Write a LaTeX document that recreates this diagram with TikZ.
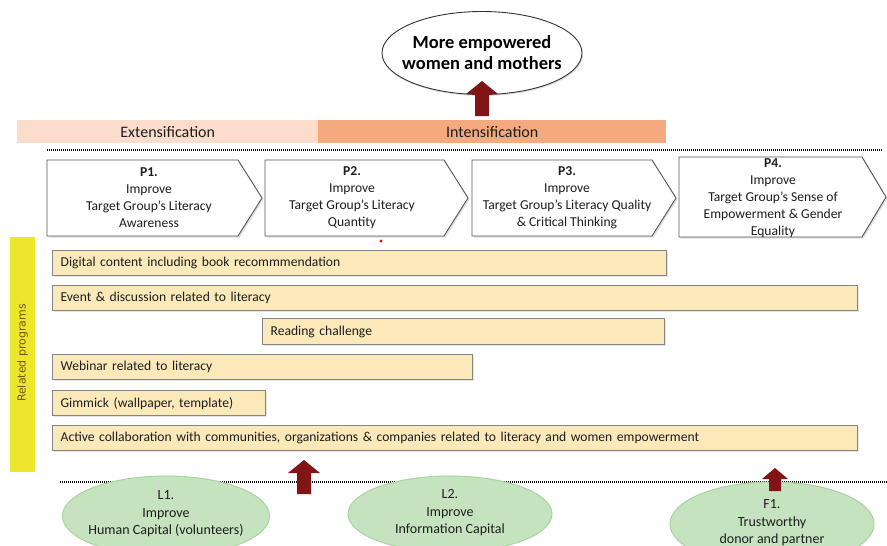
\documentclass[tikz,border=0pt]{standalone}
\usepackage{fontspec}
\setmainfont{Carlito}
\newfontfamily\relfont{DejaVu Sans}
\usetikzlibrary{shapes.geometric,shadows}
\definecolor{extc}{HTML}{FCDDCC}
\definecolor{intc}{HTML}{F4AA7E}
\definecolor{boxfill}{HTML}{FCE9BA}
\definecolor{boxline}{HTML}{858585}
\definecolor{yelbar}{HTML}{EDE62A}
\definecolor{yeltext}{HTML}{6E5A10}
\definecolor{darkred}{HTML}{831416}
\definecolor{greenfill}{HTML}{C6E3BF}
\definecolor{greenline}{HTML}{A9D3A0}
\definecolor{chevline}{HTML}{555555}
\definecolor{txt}{HTML}{1E1E1E}
\begin{document}
\begin{tikzpicture}[x=1pt,y=-1pt,
  chev/.style={draw=chevline, line width=0.9pt, fill=white, line join=miter,
    drop shadow={shadow xshift=1.5pt, shadow yshift=-1.5pt, opacity=0.25}},
  chevtext/.style={align=center, text=txt, font=\fontsize{13.6}{17}\selectfont, inner sep=0pt},
  progbox/.style={draw=boxline, line width=1.3pt, fill=boxfill, anchor=north west,
    align=left, inner xsep=8pt, inner ysep=0pt, text=txt, font=\fontsize{13.6}{15}\selectfont,
    drop shadow={shadow xshift=1pt, shadow yshift=-1pt, opacity=0.2}},
  phase/.style={anchor=north west, inner sep=0pt, text=txt, font=\fontsize{16}{18}\selectfont},
  green/.style={ellipse, draw=greenline, line width=1pt, fill=greenfill, inner sep=0pt},
  greentext/.style={align=center, text=txt, inner sep=0pt, font=\fontsize{14}{17.5}\selectfont},
  dots/.style={line width=2pt, dash pattern=on 1pt off 1pt},
  blockarrow/.style={fill=darkred, draw=none}
]
\useasboundingbox (0,0) rectangle (887,546);
\clip (0,0) rectangle (887,546);
\fill[white] (0,0) rectangle (887,546);

% goal ellipse
\node[ellipse, draw=black!80, line width=0.9pt, fill=white, minimum width=200pt, minimum height=83pt,
  inner sep=0pt, drop shadow={shadow xshift=1pt, shadow yshift=-1.5pt, opacity=0.25}]
  (goal) at (482,53) {};
\node[align=center, inner sep=0pt, font=\bfseries\fontsize{18.5}{21}\selectfont] (goaltxt) at (goal.center)
  {More empowered\\women and mothers};

% phases
\node[phase, fill=extc, minimum width=301pt, minimum height=23pt] (ext) at (17,120) {Extensification};
\node[phase, fill=intc, minimum width=348pt, minimum height=23pt] (int) at (318,120) {Intensification};

% top arrow
\coordinate (ta) at (482,116);
\fill[blockarrow] (475,116) -- (475,94) -- (466,94) -- (482,81) -- (498,94) -- (489,94) -- (489,116) -- cycle;

% top dotted line
\coordinate (d1a) at (47,150);
\coordinate (d1b) at (882,150);
\draw[dots] (d1a) -- (d1b);

% chevrons
\draw[chev] (47,160) -- (238,160) -- (262,198) -- (238,236) -- (47,236) -- cycle;
\draw[chev] (265,160) -- (444,160) -- (468,198) -- (444,236) -- (265,236) -- cycle;
\draw[chev] (472,160) -- (652,160) -- (676,198) -- (652,236) -- (472,236) -- cycle;
\draw[chev] (679,157) -- (862,157) -- (886,197) -- (862,237) -- (679,237) -- cycle;
\node[chevtext] (p1) at (149,198) {\textbf{P1.}\\Improve\\Target Group’s Literacy\\Awareness};
\node[chevtext] (p2) at (352,198) {\textbf{P2.}\\Improve\\Target Group’s Literacy\\Quantity};
\node[chevtext] (p3) at (567,198) {\textbf{P3.}\\Improve\\Target Group’s Literacy Quality\\\& Critical Thinking};
\node[chevtext] (p4) at (773,198) {\textbf{P4.}\\Improve\\Target Group’s Sense of\\Empowerment \& Gender\\Equality};

% red dot
\fill[red] (381,241) circle (1.6pt);

% related programs bar
\node[fill=yelbar, minimum width=25pt, minimum height=235pt, inner sep=0pt, anchor=north west] (rel) at (10,237) {};
\node[rotate=90, text=yeltext, font=\relfont\fontsize{11}{13}\selectfont, inner sep=0pt] (reltxt) at (22.5,353) {Related programs};

% program boxes
\node[progbox, text width=598pt, minimum height=25pt] (b1) at (52,250) {Digital content including book recommmendation};
\node[progbox, text width=789pt, minimum height=25pt] (b2) at (52,285) {Event \& discussion related to literacy};
\node[progbox, text width=386pt, minimum height=26pt] (b3) at (262,318) {Reading challenge};
\node[progbox, text width=404pt, minimum height=25pt] (b4) at (52,354) {Webinar related to literacy};
\node[progbox, text width=197pt, minimum height=25pt] (b5) at (52,390) {Gimmick (wallpaper, template)};
\node[progbox, text width=789pt, minimum height=25pt] (b6) at (52,425) {Active collaboration with communities, organizations \& companies related to literacy and women empowerment};

% bottom dotted line
\coordinate (d2a) at (60,482);
\coordinate (d2b) at (887,482);
\draw[dots] (d2a) -- (d2b);

% foundations
\node[green, minimum width=207pt, minimum height=80pt] (l1) at (166,516) {};
\node[green, minimum width=204pt, minimum height=76pt] (l2) at (450,514) {};
\node[green, minimum width=204pt, minimum height=84pt] (f1) at (772,524) {};
\node[greentext] (l1t) at (166,514) {L1.\\Improve\\Human Capital (volunteers)};
\node[greentext] (l2t) at (450,513) {L2.\\Improve\\Information Capital};
\node[greentext] (f1t) at (772,523) {F1.\\Trustworthy\\donor and partner};

% bottom arrows
\fill[blockarrow] (297,494) -- (297,473) -- (288,473) -- (304,460) -- (320,473) -- (311,473) -- (311,494) -- cycle;
\fill[blockarrow] (769,491) -- (769,479) -- (762,479) -- (775,468) -- (788,479) -- (781,479) -- (781,491) -- cycle;
\end{tikzpicture}
\end{document}
